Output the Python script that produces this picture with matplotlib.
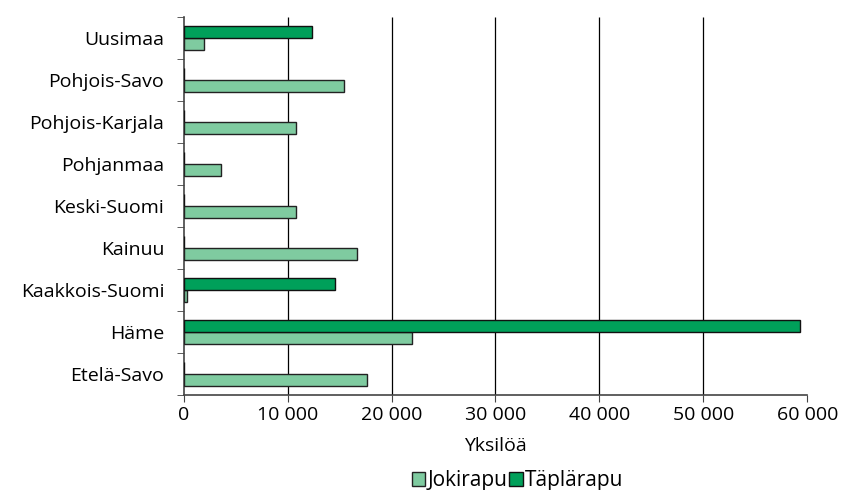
import numpy as np
import matplotlib
matplotlib.use("Agg")
import matplotlib.pyplot as plt
from matplotlib.ticker import FuncFormatter

plt.rcParams['font.family'] = ['Open Sans', 'DejaVu Sans']

regions = ["Etelä-Savo", "Häme", "Kaakkois-Suomi", "Kainuu", "Keski-Suomi",
           "Pohjanmaa", "Pohjois-Karjala", "Pohjois-Savo", "Uusimaa"]
jokirapu = [17600, 22000, 300, 16700, 10800, 3600, 10800, 15400, 1900]
taplarapu = [0, 59300, 14600, 0, 0, 0, 0, 0, 12300]
xticks = [0, 10000, 20000, 30000, 40000, 50000, 60000]

fs = 14

fig = plt.figure(figsize=(8.47, 4.9), dpi=100)
ax = fig.add_axes([0.217, 0.194, 0.736, 0.771])

y = np.arange(len(regions))
h = 0.28
ax.barh(y - h / 2, jokirapu, height=h, color="#7fcba0", edgecolor="#222222",
        linewidth=1, label="Jokirapu", zorder=3)
ax.barh(y + h / 2, taplarapu, height=h, color="#00a05a", edgecolor="#111111",
        linewidth=1, label="Täplärapu", zorder=3)

ax.set_xlim(0, 60000)
ax.set_ylim(-0.5, len(regions) - 0.5)
ax.set_xticks(xticks)
ax.xaxis.set_major_formatter(FuncFormatter(lambda v, p: f"{int(v):,}".replace(",", " ")))
ax.set_yticks(y)
ax.set_yticklabels(regions)
ax.set_yticks(np.arange(-0.5, len(regions), 1), minor=True)
ax.tick_params(axis='y', which='major', length=0, pad=14, labelsize=fs)
ax.tick_params(axis='y', which='minor', length=5, color="#444444")
ax.tick_params(axis='x', length=5, labelsize=fs, color="#444444", pad=3)
# vertical gridlines, none at the last tick
ax.vlines(xticks[1:-1], -0.5, len(regions) - 0.5, color="black", linewidth=0.9, zorder=0)
for s in ["top", "right"]:
    ax.spines[s].set_visible(False)
for s in ["left", "bottom"]:
    ax.spines[s].set_color("#444444")
    ax.spines[s].set_linewidth(1.2)

ax.set_xlabel("Yksilöä", fontsize=fs, labelpad=9)
ax.legend(loc="center", bbox_to_anchor=(0.535, -0.227), ncol=2, frameon=False,
          fontsize=15, handlelength=0.65, handleheight=0.65, handletextpad=0.1,
          columnspacing=0.1, borderpad=0)

fig.savefig("out.png", dpi=100)
